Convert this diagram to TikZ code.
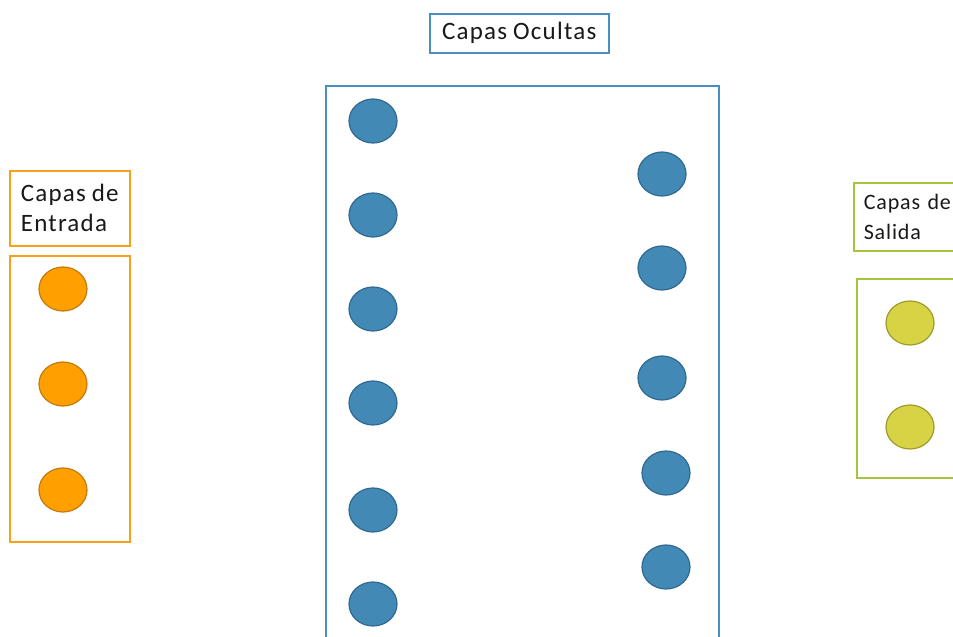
\documentclass[tikz,border=0pt]{standalone}
\usepackage{fontspec}
\setmainfont{Carlito}
\newfontfamily\lblfont[LetterSpace=5,WordSpace=0.85]{Carlito}
\newfontfamily\lblfontB[LetterSpace=4,WordSpace=0.85]{Carlito}
\usetikzlibrary{shapes.geometric}
\definecolor{inBorder}{HTML}{F7A11A}
\definecolor{hidBorder}{HTML}{4A8FC0}
\definecolor{outBorder}{HTML}{A5C53C}
\definecolor{inFill}{HTML}{FFA000}
\definecolor{inEdge}{HTML}{C47A08}
\definecolor{hidFill}{HTML}{4289B5}
\definecolor{hidEdge}{HTML}{2F6990}
\definecolor{outFill}{HTML}{D6D444}
\definecolor{outEdge}{HTML}{A09A2C}
\tikzset{
  frame/.style={draw=#1, line width=1.5pt, anchor=north west, inner sep=0pt},
  labelbox/.style={draw=#1, line width=1.5pt, anchor=north west, inner xsep=10pt, inner ysep=0pt, align=left, font=\lblfont\fontsize{25}{30}\selectfont, text=black!90},
  neuron/.style={ellipse, draw=#1, line width=1.2pt, minimum width=48pt, minimum height=44pt, inner sep=0pt},
  inN/.style={neuron=inEdge, fill=inFill},
  hidN/.style={neuron=hidEdge, fill=hidFill},
  outN/.style={neuron=outEdge, fill=outFill}
}
\begin{document}
\begin{tikzpicture}[x=1pt, y=-1pt]
\useasboundingbox (0,0) rectangle (953,637);
\clip (0,0) rectangle (953,637);
\fill[white] (0,0) rectangle (953,637);
% Hidden layers
\node[labelbox=hidBorder, minimum width=179pt, minimum height=39pt, align=center, inner xsep=0pt] (lblHid) at (429,13) {Capas Ocultas};
\node[frame=hidBorder, minimum width=393pt, minimum height=580pt] (boxHid) at (325,85) {};
\node[hidN] (h1) at (373,121) {};
\node[hidN] (h2) at (373,215) {};
\node[hidN] (h3) at (373,309) {};
\node[hidN] (h4) at (373,403) {};
\node[hidN] (h5) at (373,510) {};
\node[hidN] (h6) at (373,604) {};
\node[hidN] (k1) at (662,174) {};
\node[hidN] (k2) at (662,268) {};
\node[hidN] (k3) at (662,378) {};
\node[hidN] (k4) at (666,473) {};
\node[hidN] (k5) at (666,567) {};
% Input layer
\node[labelbox=inBorder, inner xsep=0pt, minimum width=120pt, minimum height=75pt] (lblIn) at (9,170) {Capas de\\Entrada};
\node[frame=inBorder, minimum width=120pt, minimum height=286pt] (boxIn) at (9,255) {};
\node[inN] (i1) at (63,289) {};
\node[inN] (i2) at (63,384) {};
\node[inN] (i3) at (63,490) {};
% Output layer
\node[labelbox=outBorder, inner xsep=10pt, text width=110pt, minimum height=68pt, font=\lblfontB\fontsize{22}{30}\selectfont] (lblOut) at (853,182) {Capas de\\Salida};
\node[frame=outBorder, minimum width=120pt, minimum height=199pt] (boxOut) at (856,278) {};
\node[outN] (o1) at (910,323) {};
\node[outN] (o2) at (910,427) {};
\end{tikzpicture}
\end{document}
